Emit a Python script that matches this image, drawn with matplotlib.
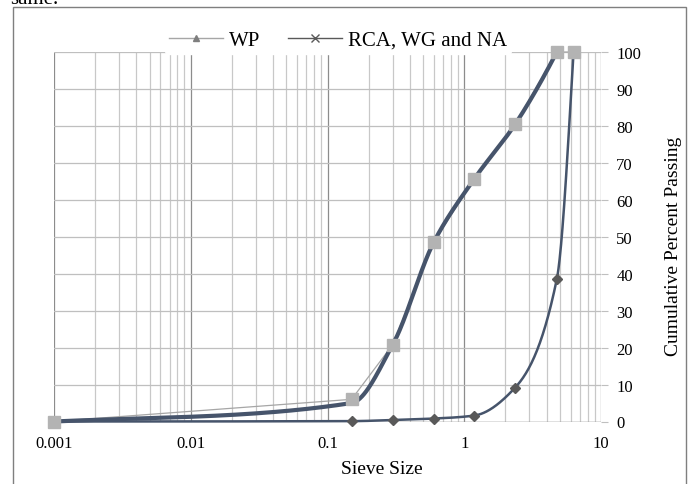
import numpy as np
import matplotlib
matplotlib.use("Agg")
import matplotlib.pyplot as plt
from matplotlib.patches import Rectangle
from matplotlib.lines import Line2D

plt.rcParams['font.family'] = ['Liberation Serif', 'DejaVu Serif']

# ---- data ----
sieve_sq = [0.001, 0.15, 0.3, 0.6, 1.18, 2.36, 4.75, 6.3]
pass_sq = [0, 6.0, 20.8, 48.6, 65.6, 80.5, 100, 100]
sieve_dia = [0.15, 0.3, 0.6, 1.18, 2.36, 4.75]
pass_dia = [0.1, 0.4, 0.8, 1.6, 9.2, 38.5]
# smooth (fitted) curves
curve1_x = [0.001, 0.15, 0.3, 0.6, 1.18, 2.36, 4.75]
curve1_y = [0, 5.0, 20.8, 48.6, 65.6, 80.5, 100]
curve2_x = [0.001, 0.15, 0.3, 0.6, 1.18, 2.36, 4.75, 6.3]
curve2_y = [0, 0.1, 0.4, 0.8, 1.6, 9.2, 38.5, 100]
xticks = [0.001, 0.01, 0.1, 1, 10]
xticklabels = ['0.001', '0.01', '0.1', '1', '10']
yticks = list(range(0, 101, 10))
legend_labels = ['WP', 'RCA, WG and NA']


def pchip_curve(xs, ys, start_frac=0.0, n=60):
    """Monotone cubic interpolation in log10(x) space."""
    x = np.log10(np.asarray(xs, float))
    y = np.asarray(ys, float)
    h = np.diff(x)
    delta = np.diff(y) / h
    m = len(x)
    d = np.zeros(m)
    for k in range(1, m - 1):
        if delta[k - 1] * delta[k] <= 0:
            d[k] = 0.0
        else:
            w1 = 2 * h[k] + h[k - 1]
            w2 = h[k] + 2 * h[k - 1]
            d[k] = (w1 + w2) / (w1 / delta[k - 1] + w2 / delta[k])

    def end(h0, h1, d0, d1):
        s = ((2 * h0 + h1) * d0 - h0 * d1) / (h0 + h1)
        if np.sign(s) != np.sign(d0):
            s = 0.0
        elif np.sign(d0) != np.sign(d1) and abs(s) > abs(3 * d0):
            s = 3 * d0
        return s

    d[0] = max(end(h[0], h[1], delta[0], delta[1]), start_frac * delta[0])
    d[-1] = end(h[-1], h[-2], delta[-1], delta[-2])
    px, py = [], []
    for k in range(m - 1):
        t = np.linspace(0, 1, n)
        h00 = 2 * t**3 - 3 * t**2 + 1
        h10 = t**3 - 2 * t**2 + t
        h01 = -2 * t**3 + 3 * t**2
        h11 = t**3 - t**2
        yy = h00 * y[k] + h10 * h[k] * d[k] + h01 * y[k + 1] + h11 * h[k] * d[k + 1]
        xx = x[k] + t * h[k]
        px.append(xx)
        py.append(yy)
    return 10 ** np.concatenate(px), np.concatenate(py)


fig = plt.figure(figsize=(6.94, 4.85), dpi=100)
ax = fig.add_axes([54 / 694, 1 - 422.5 / 485, (601 - 54) / 694, (422.5 - 53) / 485])
ax.set_xscale('log')
ax.set_xlim(0.001, 10)
ax.set_ylim(0, 100)

for s in ax.spines.values():
    s.set_visible(False)

# grid
ax.set_xticks(xticks)
ax.set_xticks([m * 10.0 ** e for e in range(-3, 1) for m in range(2, 10)], minor=True)
ax.grid(True, which='major', axis='x', color='#8c8c8c', lw=0.9)
ax.grid(True, which='minor', axis='x', color='#c8c8c8', lw=0.9)
ax.set_yticks(yticks)
ax.grid(True, which='major', axis='y', color='#bfbfbf', lw=0.9)
ax.axhline(0, color='#8a8a8a', lw=1.0, zorder=1.5)
ax.set_axisbelow(True)

ax.set_xticklabels(xticklabels, fontsize=12)
ax.tick_params(axis='x', which='both', length=0, pad=10, colors='black')
ax.yaxis.tick_right()
ax.tick_params(axis='y', length=5, color='#bfbfbf', pad=6, labelsize=12)

# thin straight line through squares
ax.plot(sieve_sq, pass_sq, color='#a6a6a6', lw=0.9, zorder=2, clip_on=False)
# smooth curves
cx, cy = pchip_curve(curve1_x, curve1_y, start_frac=0.75)
ax.plot(cx, cy, color='#46546b', lw=3.0, zorder=3, clip_on=False, solid_capstyle='round')
cx, cy = pchip_curve(curve2_x, curve2_y)
ax.plot(cx, cy, color='#46546b', lw=1.8, zorder=3, clip_on=False, solid_capstyle='round')
# markers
ax.plot(sieve_dia, pass_dia, linestyle='none', marker='D', ms=5.6, color='#595959',
        mec='#595959', zorder=4, clip_on=False)
ax.plot(sieve_sq, pass_sq, linestyle='none', marker='s', ms=8, color='#b3b3b3',
        mec='#b3b3b3', zorder=5, clip_on=False)

ax.set_ylabel('Cumulative Percent Passing', fontsize=14)
ax.yaxis.set_label_position('right')
ax.yaxis.set_label_coords((665 - 54) / (601 - 54), (422.5 - 246) / (422.5 - 53))
fig.text(382 / 694, 1 - 470 / 485, 'Sieve Size', fontsize=14, ha='center', va='center')

handles = [Line2D([], [], color='#a6a6a6', lw=1.0, marker='^', ms=5, mfc='#7f7f7f', mec='#7f7f7f'),
           Line2D([], [], color='#595959', lw=1.0, marker='x', ms=6, mec='#595959')]
leg = fig.legend(handles, legend_labels, loc='center', bbox_to_anchor=(338 / 694, 1 - 41 / 485),
                 ncol=2, frameon=True, fontsize=15, handlelength=2.6, columnspacing=1.3,
                 handletextpad=0.3, borderpad=0.2, borderaxespad=0)
leg.get_frame().set_facecolor('white')
leg.get_frame().set_edgecolor('white')
leg.get_frame().set_alpha(1)
leg.set_zorder(10)

# outer frame and cut-off text
fig.patches.append(Rectangle((13 / 694, -0.05), (686 - 13) / 694, (485 - 8) / 485 + 0.05,
                             transform=fig.transFigure, fill=False, edgecolor='#7f7f7f', lw=1.0))
fig.text(10 / 694, 1 - 4 / 485, 'same.', fontsize=15, va='baseline', ha='left')

fig.savefig('out.png', dpi=100)
